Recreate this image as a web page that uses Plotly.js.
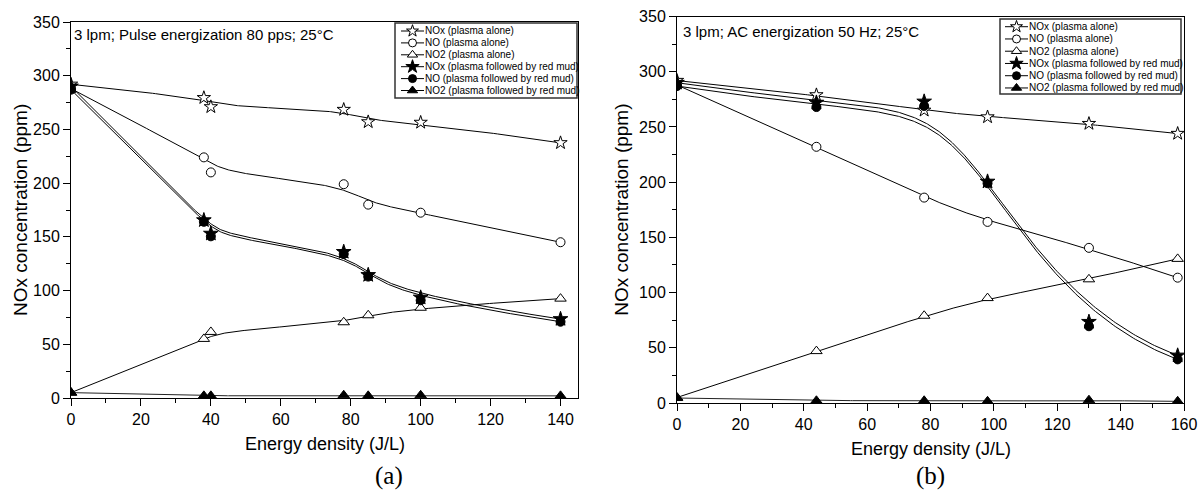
<!DOCTYPE html>
<html><head><meta charset="utf-8">
<script src="https://cdn.plot.ly/plotly-3.0.1.min.js"></script>
<style>html,body{margin:0;padding:0;background:#fff}#chart{width:1204px;height:494px}</style>
</head><body><div id="chart"></div>
<script>
// ---------- Panel (a): 3 lpm; Pulse energization 80 pps ----------
const xA        = [0, 38, 40, 78, 85, 100, 140];
const noxAloneA = [292, 279.5, 271, 268.5, 257, 256.5, 237.5];
const noAloneA  = [288, 224, 210, 199, 180, 172.5, 145];
const no2AloneA = [5, 55, 61.5, 70.5, 77, 84, 92.5];
const noxMudA   = [290, 165.5, 153, 136, 114.5, 93.5, 73.5];
const noMudA    = [287, 164, 150.5, 134, 113, 91, 71];
const no2MudA   = [5, 2, 2, 2.5, 2, 2.5, 2];

// ---------- Panel (b): 3 lpm; AC energization 50 Hz ----------
const xB        = [0, 44, 78, 98, 130, 158];
const noxAloneB = [292, 279, 265, 259, 253, 244];
const noAloneB  = [288, 232, 186, 164, 140.5, 113.5];
const no2AloneB = [5, 47, 79, 95, 112, 130.5];
const noxMudB   = [290, 272, 273, 200.5, 73.5, 43];
const noMudB    = [287, 268, 269, 199, 69.5, 39.5];
const no2MudB   = [4.5, 2, 2, 1.5, 2.5, 1.5];

const seriesNames = ['NOx (plasma alone)', 'NO (plasma alone)', 'NO2 (plasma alone)',
  'NOx (plasma followed by red mud)', 'NO (plasma followed by red mud)', 'NO2 (plasma followed by red mud)'];
const panelTitles = ['3 lpm; Pulse energization 80 pps; 25°C', '3 lpm; AC energization 50 Hz; 25°C'];
const panelLabels = ['(a)', '(b)'];
const xTitle = 'Energy density (J/L)';
const yTitle = 'NOx concentration (ppm)';

// ---------- styling ----------
const symbols = ['star', 'circle', 'triangle-up', 'star', 'circle', 'triangle-up'];
const fills   = ['white', 'white', 'white', 'black', 'black', 'black'];
const sizes   = [10, 9, 10, 11, 9, 10];
const legSizes = [9, 8, 9, 10, 8, 9];
const SANS = 'Liberation Sans, Arial, sans-serif';
const W = 1204, H = 494;
const px = v => v / W, py = v => 1 - v / H;

// clamped uniform cubic B-spline with data points as control points
function bspline(xs, ys, steps) {
  const n = xs.length, p = 3, m = n - p;
  const knots = [];
  for (let i = 0; i <= p; i++) knots.push(0);
  for (let i = 1; i < m; i++) knots.push(i);
  for (let i = 0; i <= p; i++) knots.push(m);
  const ox = [], oy = [];
  for (let s = 0; s <= steps; s++) {
    let t = m * s / steps;
    if (t >= m) t = m - 1e-9;
    let k = p;
    while (k < n - 1 && t >= knots[k + 1]) k++;
    const dx = [], dy = [];
    for (let j = 0; j <= p; j++) { dx[j] = xs[j + k - p]; dy[j] = ys[j + k - p]; }
    for (let r = 1; r <= p; r++) {
      for (let j = p; j >= r; j--) {
        const i = j + k - p;
        const a = (t - knots[i]) / (knots[i + p + 1 - r] - knots[i]);
        dx[j] = (1 - a) * dx[j - 1] + a * dx[j];
        dy[j] = (1 - a) * dy[j - 1] + a * dy[j];
      }
    }
    ox.push(dx[p]); oy.push(dy[p]);
  }
  ox[ox.length - 1] = xs[n - 1]; oy[oy.length - 1] = ys[n - 1];
  return { x: ox, y: oy };
}

const panels = [
  { x: xA, ys: [noxAloneA, noAloneA, no2AloneA, noxMudA, noMudA, no2MudA], xa: 'x', ya: 'y' },
  { x: xB, ys: [noxAloneB, noAloneB, no2AloneB, noxMudB, noMudB, no2MudB], xa: 'x2', ya: 'y2' }
];

const lineTraces = [], markerTraces = [], legendTraces = [];
panels.forEach(pn => {
  pn.ys.forEach((yv, i) => {
    const sp = bspline(pn.x, yv, 300);
    lineTraces.push({ type: 'scatter', mode: 'lines', x: sp.x, y: sp.y, xaxis: pn.xa, yaxis: pn.ya,
      line: { color: i === 5 ? '#222' : 'black', width: 1 }, showlegend: false, hoverinfo: 'skip' });
    markerTraces.push({ type: 'scatter', mode: 'markers', x: pn.x, y: yv, xaxis: pn.xa, yaxis: pn.ya,
      name: seriesNames[i], showlegend: false,
      marker: { symbol: symbols[i], size: sizes[i], color: fills[i], line: { color: 'black', width: 1 } } });
  });
});

const axBase = {
  showline: true, mirror: true, linecolor: 'black', linewidth: 1,
  ticks: 'outside', ticklen: 7, tickwidth: 1, tickcolor: 'black',
  showgrid: false, zeroline: false,
  tickfont: { family: SANS, size: 16, color: 'black' },
  minor: { ticks: 'outside', ticklen: 4, tickwidth: 1, tickcolor: 'black', showgrid: false }
};

// layout geometry (pixels)
const geo = [
  { l: 71, r: 578, t: 22, b: 398, xmax: 145, titleX: 73, titleY: 34.5, yTitleX: 20,
    leg: { l: 395, r: 577, t: 23, b: 98, ll: 401, lr: 424, tx: 424, y0: 31, dy: 11.9 },
    labX: 389, labY: 476 },
  { l: 677, r: 1184, t: 16.5, b: 403, xmax: 160, titleX: 682, titleY: 31.5, yTitleX: 622,
    leg: { l: 1000, r: 1181, t: 19, b: 94, ll: 1005, lr: 1028, tx: 1028, y0: 26.7, dy: 12.25 },
    labX: 930, labY: 476 }
];

const layout = {
  width: W, height: H, margin: { l: 0, r: 0, t: 0, b: 0 },
  paper_bgcolor: 'white', plot_bgcolor: 'white', showlegend: false,
  font: { family: SANS, color: 'black' },
  xaxis: Object.assign({}, axBase, { domain: [px(geo[0].l), px(geo[0].r)], range: [0, geo[0].xmax], dtick: 20, tick0: 0, anchor: 'y',
    minor: Object.assign({}, axBase.minor, { dtick: 10 }) }),
  yaxis: Object.assign({}, axBase, { domain: [py(geo[0].b), py(geo[0].t)], range: [0, 350], dtick: 50, tick0: 0, anchor: 'x',
    minor: Object.assign({}, axBase.minor, { dtick: 25 }) }),
  xaxis2: Object.assign({}, axBase, { domain: [px(geo[1].l), px(geo[1].r)], range: [0, geo[1].xmax], dtick: 20, tick0: 0, anchor: 'y2',
    minor: Object.assign({}, axBase.minor, { dtick: 10 }) }),
  yaxis2: Object.assign({}, axBase, { domain: [py(geo[1].b), py(geo[1].t)], range: [0, 350], dtick: 50, tick0: 0, anchor: 'x2',
    minor: Object.assign({}, axBase.minor, { dtick: 25 }) }),
  annotations: [], shapes: []
};

geo.forEach((g, p) => {
  const A = layout.annotations, S = layout.shapes;
  A.push({ xref: 'paper', yref: 'paper', x: px(g.titleX), y: py(g.titleY), xanchor: 'left', yanchor: 'middle',
    text: panelTitles[p], showarrow: false, borderpad: 0, font: { family: SANS, size: 15, color: 'black' } });
  A.push({ xref: 'paper', yref: 'paper', x: px((g.l + g.r) / 2), y: py(g.b + 46), xanchor: 'center', yanchor: 'middle',
    text: xTitle, showarrow: false, borderpad: 0, font: { family: SANS, size: 18, color: 'black' } });
  A.push({ xref: 'paper', yref: 'paper', x: px(g.yTitleX), y: py((g.t + g.b) / 2), xanchor: 'center', yanchor: 'middle',
    text: yTitle, textangle: -90, showarrow: false, borderpad: 0, font: { family: SANS, size: 19, color: 'black' } });
  A.push({ xref: 'paper', yref: 'paper', x: px(g.labX), y: py(g.labY), xanchor: 'center', yanchor: 'middle',
    text: panelLabels[p], showarrow: false, borderpad: 0, font: { family: 'Liberation Serif, Times New Roman, serif', size: 25, color: 'black' } });

  // custom compact legend: box, label texts, and glyph samples on a hidden helper axis (row index -> row)
  const L = g.leg;
  S.push({ type: 'rect', xref: 'paper', yref: 'paper', x0: px(L.l), x1: px(L.r), y0: py(L.b), y1: py(L.t),
    line: { color: '#333', width: 1.5 }, fillcolor: 'rgba(0,0,0,0)', layer: 'above' });
  const xid = 'x' + (3 + p), yid = 'y' + (3 + p);
  layout['xaxis' + (3 + p)] = { domain: [px(L.ll), px(L.lr)], range: [-1, 1], visible: false, fixedrange: true, anchor: yid };
  layout['yaxis' + (3 + p)] = { domain: [py(L.y0 + 5.5 * L.dy), py(L.y0 - 0.5 * L.dy)], range: [5.5, -0.5],
    visible: false, fixedrange: true, anchor: xid };
  seriesNames.forEach((nm, i) => {
    legendTraces.push({ type: 'scatter', mode: 'lines', x: [-1, 1], y: [i, i], xaxis: xid, yaxis: yid,
      line: { color: 'black', width: 1 }, showlegend: false, hoverinfo: 'skip', cliponaxis: false });
    legendTraces.push({ type: 'scatter', mode: 'markers', x: [0], y: [i], xaxis: xid, yaxis: yid, cliponaxis: false,
      marker: { symbol: symbols[i], size: legSizes[i], color: fills[i], line: { color: 'black', width: 1 } },
      showlegend: false, hoverinfo: 'skip' });
    A.push({ xref: 'paper', yref: 'paper', x: px(L.tx), y: py(L.y0 + i * L.dy), xanchor: 'left', yanchor: 'middle',
      text: nm, showarrow: false, borderpad: 0, font: { family: SANS, size: 10, color: 'black' } });
  });
});

Plotly.newPlot('chart', lineTraces.concat(markerTraces, legendTraces), layout, { staticPlot: true, displayModeBar: false });
</script></body></html>
